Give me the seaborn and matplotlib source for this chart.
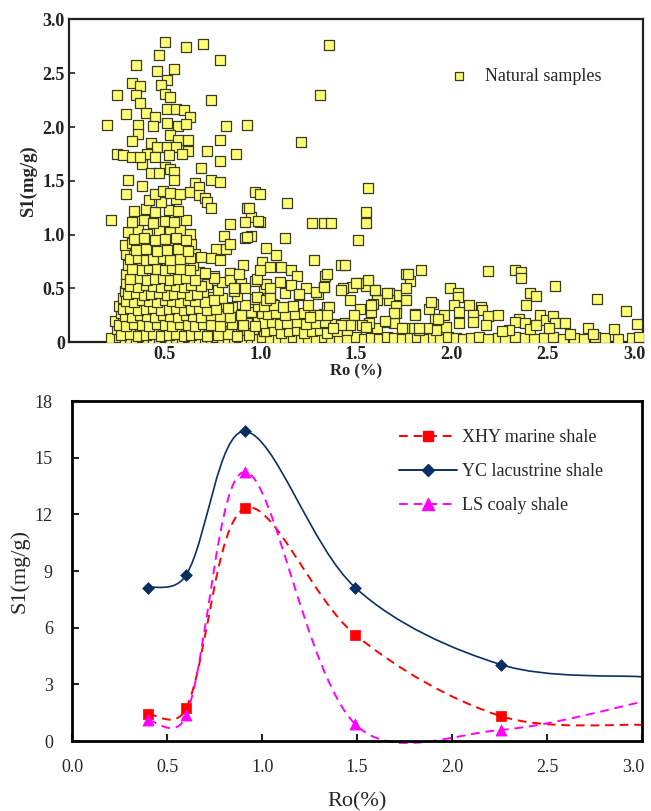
import numpy as np
import matplotlib
matplotlib.use("Agg")
import matplotlib.pyplot as plt
from matplotlib.path import Path
from matplotlib.patches import PathPatch
from matplotlib.lines import Line2D
from matplotlib.transforms import ScaledTranslation
import seaborn as sns

# ---- top panel: natural samples (Ro %, S1 mg/g) ----
# row of samples lying on the baseline
base_ro = [0.22, 0.26, 0.29, 0.32, 0.35, 0.38, 0.41, 0.44, 0.47, 0.50, 0.53, 0.56,
           0.59, 0.62, 0.65, 0.68, 0.71, 0.74, 0.77, 0.80, 0.83, 0.86, 0.89, 0.92,
           0.95, 0.98, 1.01, 1.05, 1.09, 1.13, 1.17, 1.21, 1.25, 1.29, 1.33, 1.37,
           1.41, 1.45, 1.50, 1.54, 1.58, 1.62, 1.66, 1.70, 1.74, 1.78, 1.82, 1.86,
           1.90, 1.94, 1.98, 2.02, 2.06, 2.10, 2.14, 2.19, 2.24, 2.28, 2.33, 2.38,
           2.43, 2.48, 2.53, 2.58, 2.64, 2.69, 2.75, 2.80, 2.87, 2.94, 2.98]
base_s1 = [0.04, 0.05, 0.03, 0.04, 0.03, 0.05, 0.04, 0.03, 0.04, 0.05, 0.03, 0.04,
           0.03, 0.05, 0.04, 0.03, 0.04, 0.03, 0.05, 0.04, 0.03, 0.04, 0.05, 0.03,
           0.04, 0.03, 0.05, 0.04, 0.03, 0.04, 0.05, 0.03, 0.04, 0.03, 0.05, 0.04,
           0.03, 0.04, 0.05, 0.03, 0.04, 0.03, 0.05, 0.04, 0.03, 0.04, 0.05, 0.03,
           0.04, 0.03, 0.05, 0.04, 0.03, 0.04, 0.05, 0.03, 0.04, 0.03, 0.05, 0.04,
           0.03, 0.04, 0.05, 0.03, 0.04, 0.03, 0.05, 0.04, 0.03, 0.04, 0.05]

# dense cloud of low-maturity samples
dense_ro = [0.25, 0.30, 0.34, 0.38, 0.42, 0.46, 0.50, 0.54, 0.58, 0.62, 0.66, 0.70, 0.75, 0.80, 0.85, 0.90, 0.96, 1.02, 1.08,
            0.24, 0.28, 0.32, 0.36, 0.40, 0.44, 0.48, 0.52, 0.56, 0.60, 0.64, 0.68, 0.72, 0.77, 0.82, 0.88, 0.93, 0.99, 1.05, 1.12, 1.18, 1.24, 1.30,
            0.27, 0.31, 0.35, 0.39, 0.43, 0.47, 0.51, 0.55, 0.59, 0.63, 0.67, 0.71, 0.76, 0.81, 0.87, 0.95, 1.01, 1.10,
            0.26, 0.30, 0.34, 0.38, 0.42, 0.46, 0.50, 0.54, 0.58, 0.62, 0.66, 0.70, 0.74, 0.79, 0.85, 0.92, 0.99, 1.06,
            0.28, 0.32, 0.36, 0.40, 0.44, 0.48, 0.52, 0.56, 0.60, 0.64, 0.68, 0.73, 0.80, 0.88, 0.97, 1.04,
            0.29, 0.33, 0.37, 0.41, 0.45, 0.49, 0.53, 0.57, 0.61, 0.65, 0.70, 0.78, 0.86, 1.02,
            0.30, 0.34, 0.38, 0.42, 0.46, 0.50, 0.54, 0.58, 0.62, 0.66, 0.72, 0.80, 0.90, 0.97, 1.03, 1.10,
            0.30, 0.35, 0.39, 0.43, 0.47, 0.51, 0.55, 0.59, 0.63, 0.68, 0.76, 0.84,
            0.31, 0.36, 0.40, 0.44, 0.48, 0.52, 0.56, 0.60, 0.65,
            0.30, 0.34, 0.38, 0.42, 0.46, 0.51, 0.56, 0.61, 0.66,
            0.29, 0.33, 0.37, 0.43, 0.49, 0.54, 0.59, 0.64,
            0.31, 0.36, 0.41, 0.47, 0.53, 0.58, 0.63,
            0.33, 0.39, 0.44, 0.50, 0.55, 0.61,
            0.34, 0.40, 0.45, 0.52, 0.57,
            0.42, 0.48, 0.56,
            1.03, 1.07, 1.11, 1.15, 1.19, 1.23, 1.27, 1.31, 1.35, 1.40, 1.45,
            1.02, 1.06, 1.10, 1.14, 1.19, 1.24, 1.29, 1.34, 1.39, 1.44,
            1.04, 1.08, 1.13, 1.18, 1.23, 1.28, 1.33,
            1.02, 1.07, 1.12, 1.17, 1.25,
            1.05, 1.13, 1.20, 1.30]
dense_s1 = [0.12, 0.10, 0.13, 0.11, 0.12, 0.10, 0.13, 0.11, 0.12, 0.10, 0.13, 0.11, 0.12, 0.10, 0.13, 0.11, 0.12, 0.10, 0.13,
            0.20, 0.18, 0.21, 0.19, 0.20, 0.22, 0.18, 0.21, 0.19, 0.20, 0.22, 0.18, 0.21, 0.19, 0.20, 0.22, 0.18, 0.21, 0.19, 0.20, 0.22, 0.18, 0.21,
            0.27, 0.29, 0.26, 0.28, 0.27, 0.29, 0.26, 0.28, 0.27, 0.29, 0.26, 0.28, 0.27, 0.29, 0.26, 0.28, 0.27, 0.29,
            0.34, 0.36, 0.33, 0.35, 0.34, 0.36, 0.33, 0.35, 0.34, 0.36, 0.33, 0.35, 0.34, 0.36, 0.33, 0.35, 0.34, 0.36,
            0.41, 0.43, 0.40, 0.42, 0.41, 0.43, 0.40, 0.42, 0.41, 0.43, 0.40, 0.42, 0.41, 0.43, 0.40, 0.42,
            0.48, 0.50, 0.47, 0.49, 0.48, 0.50, 0.47, 0.49, 0.48, 0.50, 0.47, 0.49, 0.48, 0.50,
            0.55, 0.57, 0.54, 0.56, 0.55, 0.57, 0.54, 0.56, 0.55, 0.57, 0.54, 0.56, 0.55, 0.57, 0.54, 0.56,
            0.63, 0.65, 0.62, 0.64, 0.63, 0.65, 0.62, 0.64, 0.63, 0.65, 0.62, 0.64,
            0.72, 0.74, 0.71, 0.73, 0.72, 0.74, 0.71, 0.73, 0.72,
            0.82, 0.84, 0.81, 0.83, 0.82, 0.84, 0.81, 0.83, 0.82,
            0.90, 0.92, 0.89, 0.91, 0.90, 0.92, 0.89, 0.91,
            1.02, 1.04, 1.01, 1.03, 1.02, 1.04, 1.01,
            1.12, 1.14, 1.11, 1.13, 1.12, 1.14,
            1.22, 1.24, 1.21, 1.23, 1.22,
            1.32, 1.30, 1.33,
            0.10, 0.11, 0.09, 0.10, 0.11, 0.09, 0.10, 0.11, 0.09, 0.10, 0.11,
            0.18, 0.19, 0.17, 0.18, 0.19, 0.17, 0.18, 0.19, 0.17, 0.18,
            0.26, 0.27, 0.25, 0.26, 0.27, 0.25, 0.26,
            0.34, 0.35, 0.33, 0.34, 0.35,
            0.45, 0.46, 0.44, 0.45]

# second, offset layer of the same cloud (the core is packed solid)
core_ro = [0.27, 0.32, 0.36, 0.40, 0.44, 0.48, 0.52, 0.56, 0.60, 0.64, 0.68, 0.72, 0.78, 0.83, 0.88, 0.94,
           0.26, 0.30, 0.34, 0.38, 0.42, 0.46, 0.50, 0.54, 0.58, 0.62, 0.66, 0.70, 0.74, 0.79, 0.85, 0.91, 0.97,
           0.29, 0.33, 0.37, 0.41, 0.45, 0.49, 0.53, 0.57, 0.61, 0.65, 0.69, 0.74, 0.79, 0.84, 0.90,
           0.28, 0.32, 0.36, 0.40, 0.44, 0.48, 0.52, 0.56, 0.60, 0.64, 0.68, 0.72, 0.77, 0.83,
           0.30, 0.34, 0.38, 0.42, 0.46, 0.50, 0.54, 0.58, 0.62, 0.66, 0.71, 0.76,
           0.31, 0.35, 0.39, 0.43, 0.47, 0.51, 0.55, 0.59, 0.63, 0.67,
           0.32, 0.36, 0.40, 0.44, 0.48, 0.52, 0.56, 0.60, 0.64, 0.69,
           0.32, 0.37, 0.41, 0.45, 0.49, 0.53, 0.57, 0.61, 0.66,
           0.33, 0.38, 0.42, 0.46, 0.50, 0.54, 0.58, 0.63,
           0.32, 0.36, 0.40, 0.44, 0.49, 0.53, 0.58, 0.63,
           0.35, 0.40, 0.46, 0.51, 0.57, 0.62,
           0.34, 0.39, 0.45, 0.50, 0.56, 0.61]
core_s1 = [0.07, 0.08, 0.06, 0.07, 0.08, 0.06, 0.07, 0.08, 0.06, 0.07, 0.08, 0.06, 0.07, 0.08, 0.06, 0.07,
           0.16, 0.15, 0.17, 0.16, 0.15, 0.17, 0.16, 0.15, 0.17, 0.16, 0.15, 0.17, 0.16, 0.15, 0.17, 0.16, 0.15,
           0.24, 0.23, 0.25, 0.24, 0.23, 0.25, 0.24, 0.23, 0.25, 0.24, 0.23, 0.25, 0.24, 0.23, 0.25,
           0.31, 0.32, 0.30, 0.31, 0.32, 0.30, 0.31, 0.32, 0.30, 0.31, 0.32, 0.30, 0.31, 0.32,
           0.38, 0.37, 0.39, 0.38, 0.37, 0.39, 0.38, 0.37, 0.39, 0.38, 0.37, 0.39,
           0.45, 0.46, 0.44, 0.45, 0.46, 0.44, 0.45, 0.46, 0.44, 0.45,
           0.52, 0.51, 0.53, 0.52, 0.51, 0.53, 0.52, 0.51, 0.53, 0.52,
           0.59, 0.60, 0.58, 0.59, 0.60, 0.58, 0.59, 0.60, 0.58,
           0.68, 0.67, 0.69, 0.68, 0.67, 0.69, 0.68, 0.67,
           0.77, 0.78, 0.76, 0.77, 0.78, 0.76, 0.77, 0.78,
           0.86, 0.87, 0.85, 0.86, 0.87, 0.85,
           0.96, 0.97, 0.95, 0.96, 0.97, 0.95]

# scattered samples (high S1 outliers and the high-maturity tail)
spread_ro = [0.20, 0.25, 0.22, 0.30, 0.25, 0.28, 0.31, 0.30, 0.35, 0.33, 0.37, 0.35,
             0.37, 0.40, 0.36, 0.36, 0.33, 0.33, 0.38, 0.38, 0.47, 0.50, 0.46, 0.55,
             0.51, 0.48, 0.50, 0.53, 0.61, 0.70, 0.79, 0.74, 0.51, 0.56, 0.60, 0.63,
             0.45, 0.51, 0.44, 0.57, 0.61, 0.82, 0.93, 0.53, 0.57, 0.62, 0.79, 0.43,
             0.46, 0.51, 0.56, 0.62, 0.72, 0.87, 0.41, 0.59, 0.52, 0.45, 0.37, 0.79,
             0.50, 0.53, 0.69, 0.43, 0.47, 0.55, 0.55, 0.74, 0.79, 0.66, 0.45, 0.49,
             0.53, 0.58, 0.63, 0.68, 0.68, 0.71, 0.72, 0.74, 0.97, 1.00, 1.14, 0.93,
             0.95, 0.92, 1.00, 0.84, 1.27, 1.36, 1.31, 1.21, 1.33, 0.81, 0.77, 0.82,
             0.84, 0.92, 0.95, 1.03, 1.13, 1.08, 1.01, 0.91, 0.74, 0.79, 0.69, 1.28,
             1.34, 1.11, 1.16, 1.19, 1.05, 0.94, 0.99, 0.93, 0.98, 0.76, 0.71, 0.84,
             0.86, 0.92, 0.98, 1.03, 0.89, 1.00, 1.05, 1.16, 1.24, 1.29, 1.33, 1.20,
             1.05, 1.31, 1.35, 1.26,
             1.56, 1.55, 1.55, 1.37, 1.51, 1.42, 1.44, 1.35, 1.84, 1.76, 1.78, 2.19,
             2.33, 2.36, 2.36, 2.54, 2.41, 2.44, 2.39, 2.76, 2.91, 2.97, 1.99, 2.03,
             2.03, 2.01, 2.04, 1.96, 2.09, 2.15, 2.16, 2.11, 2.19, 2.24, 1.90, 1.88,
             1.81, 1.91, 1.76, 1.71, 1.67, 1.67, 1.71, 1.71, 1.61, 1.59, 1.58, 1.56,
             1.55, 1.51, 1.48, 1.43, 1.60, 1.47, 1.52, 1.49, 1.36, 1.33, 1.35, 2.46,
             2.49, 2.53, 2.54, 2.59, 2.35, 2.33, 2.38, 2.41, 2.44, 2.51, 2.30, 2.26,
             2.18, 2.11, 2.04, 1.97, 1.92, 1.87, 1.83, 1.80, 1.75, 1.70, 1.65, 1.61,
             1.57, 1.53, 1.47, 1.42, 1.38, 2.71, 2.85, 2.74, 2.62, 1.42, 1.50, 1.60,
             1.56, 1.77, 1.76, 1.66, 1.58, 1.70, 1.81, 1.89, 1.93, 1.65, 1.74, 1.83,
             1.55]
spread_s1 = [2.02, 2.30, 1.14, 2.12, 1.75, 1.74, 1.51, 1.38, 2.58, 2.41, 2.38, 2.30,
             2.22, 2.13, 2.02, 1.94, 1.87, 1.72, 1.66, 1.45, 2.67, 2.79, 2.52, 2.54,
             2.44, 2.39, 2.31, 2.28, 2.74, 2.77, 2.62, 2.25, 2.17, 2.17, 2.16, 2.09,
             2.09, 2.04, 2.01, 2.01, 2.03, 2.01, 2.02, 1.93, 1.88, 1.88, 1.88, 1.85,
             1.81, 1.81, 1.81, 1.78, 1.78, 1.75, 1.75, 1.75, 1.74, 1.72, 1.72, 1.68,
             1.63, 1.61, 1.62, 1.57, 1.57, 1.58, 1.51, 1.51, 1.49, 1.48, 1.38, 1.41,
             1.39, 1.38, 1.40, 1.44, 1.37, 1.34, 1.30, 1.25, 1.40, 1.38, 1.29, 1.25,
             1.16, 1.12, 1.12, 1.10, 1.11, 2.76, 2.30, 1.86, 1.11, 0.99, 0.87, 0.87,
             0.91, 0.97, 0.99, 0.88, 0.97, 0.81, 0.75, 0.72, 0.78, 0.76, 0.79, 0.76,
             0.62, 0.70, 0.67, 0.62, 0.70, 1.25, 1.13, 0.98, 0.59, 0.60, 0.64, 0.58,
             0.50, 0.50, 0.42, 0.39, 0.63, 0.67, 0.50, 0.53, 0.50, 0.47, 0.51, 0.45,
             0.41, 0.25, 0.33, 0.23,
             1.43, 1.21, 1.11, 1.11, 0.95, 0.72, 0.72, 0.63, 0.67, 0.63, 0.57, 0.66,
             0.67, 0.65, 0.60, 0.52, 0.46, 0.43, 0.35, 0.40, 0.29, 0.17, 0.50, 0.46,
             0.42, 0.35, 0.28, 0.25, 0.35, 0.33, 0.30, 0.25, 0.24, 0.25, 0.36, 0.31,
             0.26, 0.22, 0.39, 0.44, 0.46, 0.39, 0.34, 0.27, 0.39, 0.36, 0.28, 0.56,
             0.52, 0.55, 0.51, 0.50, 0.49, 0.39, 0.31, 0.25, 0.33, 0.51, 0.25, 0.25,
             0.21, 0.24, 0.18, 0.18, 0.22, 0.19, 0.18, 0.12, 0.16, 0.13, 0.11, 0.10,
             0.16, 0.19, 0.18, 0.14, 0.11, 0.13, 0.11, 0.13, 0.13, 0.18, 0.19, 0.13,
             0.18, 0.16, 0.16, 0.16, 0.13, 0.13, 0.12, 0.08, 0.08, 0.49, 0.55, 0.49,
             0.58, 0.63, 0.50, 0.46, 0.35, 0.27, 0.25, 0.37, 0.22, 0.20, 0.13, 0.13,
             0.14]

# ---- bottom panel: S1 vs Ro for three shales ----
ro_pts = [0.40, 0.60, 0.91, 1.49, 2.26, 3.00]
xhy_s1 = [1.43, 1.74, 12.33, 5.63, 1.31, 0.85]
yc_s1 = [8.13, 8.80, 16.40, 8.13, 4.04, 3.40]
ls_s1 = [1.10, 1.36, 14.25, 0.89, 0.59, 2.07]
n_marked = 5  # last point carries no marker

sns.set_style("ticks")
plt.rcParams["font.family"] = ["Liberation Serif", "DejaVu Serif"]

fig = plt.figure(figsize=(6.51, 8.11), dpi=100)
ax1 = fig.add_axes([0.106, 0.578, 0.882, 0.398])
ax2 = fig.add_axes([0.111, 0.0863, 0.875, 0.419])

# top scatter
all_ro = base_ro + dense_ro + core_ro + spread_ro
all_s1 = base_s1 + dense_s1 + core_s1 + spread_s1
sns.scatterplot(x=all_ro, y=all_s1, marker="s", s=50, color="#FFFF73",
                edgecolor="#3A3A1E", linewidth=0.9, label="Natural samples",
                ax=ax1, zorder=3)
ax1.set_xlim(0, 3.0)
ax1.set_ylim(0, 3.0)
ax1.set_xticks([0.5, 1.0, 1.5, 2.0, 2.5, 3.0])
ax1.set_xticklabels(["0.5", "1.0", "1.5", "2.0", "2.5", "3.0"])
ax1.set_yticks([0, 0.5, 1.0, 1.5, 2.0, 2.5, 3.0])
ax1.set_yticklabels(["0", "0.5", "1.0", "1.5", "2.0", "2.5", "3.0"])
for lab in ax1.get_xticklabels() + ax1.get_yticklabels():
    lab.set_fontweight("bold")
    lab.set_fontsize(13)
ax1.tick_params(direction="in", length=4, width=1.2, pad=3, colors="#222222")
ax1.set_xlabel("Ro (%)", fontsize=12, fontweight="bold", labelpad=0)
ax1.set_ylabel("S1(mg/g)", fontsize=13.5, fontweight="bold", labelpad=4)
for sp in ax1.spines.values():
    sp.set_linewidth(1.6)
    sp.set_color("#222222")
ax1.legend(loc="upper right", bbox_to_anchor=(0.955, 0.90), frameon=False,
           fontsize=13, markerscale=0.85, handletextpad=0.4)

# pixel scale of the bottom axes, used to weight the curve handles
sx = 571 / 3.0
sy = 340 / 18.0


# smoothed line through the points (Bezier handles from the neighbours, spreadsheet style)
def smooth_path(xs, ys):
    pts = np.column_stack([xs, ys])
    n = len(pts)

    def dist(a, b):
        return np.hypot((a[0] - b[0]) * sx, (a[1] - b[1]) * sy)

    verts = [pts[0]]
    codes = [Path.MOVETO]
    for i in range(n - 1):
        p0 = pts[max(i - 1, 0)]
        p1 = pts[i]
        p2 = pts[i + 1]
        p3 = pts[min(i + 2, n - 1)]
        d01, d12, d23 = dist(p0, p1), dist(p1, p2), dist(p2, p3)
        w1 = d12 / (d01 + d12) / 3 if d01 > 0 else 1 / 6
        w2 = d12 / (d12 + d23) / 3 if d23 > 0 else 1 / 6
        w1 = 0.5 * w1 + 0.5 / 6
        w2 = 0.5 * w2 + 0.5 / 6
        verts += [p1 + (p2 - p0) * w1, p2 - (p3 - p1) * w2, p2]
        codes += [Path.CURVE4] * 3
    return Path(verts, codes)


series = [
    ("XHY marine shale", xhy_s1, "#FF0000", "s", (0, (4.5, 3)), 7),
    ("YC lacustrine shale", yc_s1, "#0B2F63", "D", "-", 6),
    ("LS coaly shale", ls_s1, "#FF00FF", "^", (0, (4.5, 3)), 8),
]
handles = []
for name, vals, col, mk, ls, ms in series:
    patch = PathPatch(smooth_path(ro_pts, vals), fill=False, edgecolor=col,
                      linewidth=1.4 if ls != "-" else 1.2, linestyle=ls,
                      clip_on=False, zorder=2)
    ax2.add_patch(patch)
    sns.scatterplot(x=ro_pts[:n_marked], y=vals[:n_marked], marker=mk, s=ms ** 2,
                    color=col, edgecolor=col, linewidth=0.5, ax=ax2, zorder=4,
                    legend=False)
    handles.append(Line2D([], [], color=col, linestyle=ls, linewidth=1.4,
                          marker=mk, markersize=ms, markerfacecolor=col,
                          markeredgecolor=col, label=name))

ax2.set_xlim(0, 3.0)
ax2.set_ylim(0, 18)
ax2.set_xticks([0.0, 0.5, 1.0, 1.5, 2.0, 2.5, 3.0])
ax2.set_xticklabels(["0.0", "0.5", "1.0", "1.5", "2.0", "2.5", "3.0"])
ax2.set_yticks([0, 3, 6, 9, 12, 15, 18])
ax2.tick_params(direction="in", length=5, width=1.5, labelsize=13)
ax2.tick_params(axis="x", pad=13)
ax2.tick_params(axis="y", pad=14)
ax2.set_xlabel("Ro(%)", fontsize=16, labelpad=12)
ax2.set_ylabel("S1(mg/g)", fontsize=16, labelpad=4)
for sp in ax2.spines.values():
    sp.set_linewidth(2)
    sp.set_color("black")
ax2.legend(handles=handles, loc="upper left", bbox_to_anchor=(0.574, 0.918),
           borderpad=0, borderaxespad=0, frameon=False, fontsize=13,
           handlelength=3.2, labelspacing=0.95, handletextpad=0.3)

# keep the last x label of each panel inside the figure edge
for ax in (ax1, ax2):
    last = ax.get_xticklabels()[-1]
    last.set_transform(last.get_transform() + ScaledTranslation(-6 / 72, 0, fig.dpi_scale_trans))

fig.savefig("out.png", dpi=100)
